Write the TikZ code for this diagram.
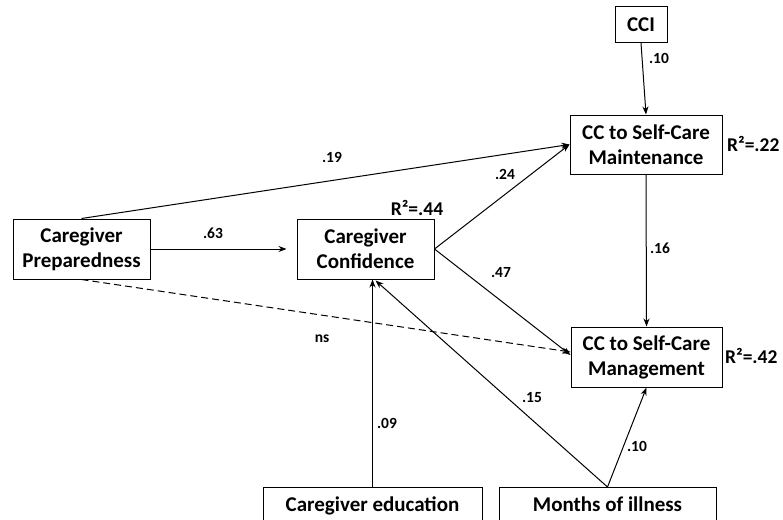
\documentclass[tikz,border=0pt]{standalone}
\usepackage{fontspec}
\setmainfont{Carlito}
\usetikzlibrary{arrows.meta,calc}
\begin{document}
\begin{tikzpicture}[x=1pt,y=-1pt,
  box/.style={draw,line width=1pt,fill=white,font=\fontsize{21}{25}\selectfont\bfseries,align=center,inner sep=0pt},
  lbl/.style={font=\fontsize{15.5}{17}\selectfont\bfseries,inner sep=0pt},
  rsq/.style={font=\fontsize{19.5}{22}\selectfont\bfseries,inner sep=0pt},
  conn/.style={line width=1pt,-{Stealth[length=8pt,width=6pt]}}]
\useasboundingbox (0,0) rectangle (783,519);
\clip (0,0) rectangle (783,519);
\node[box,minimum width=52pt,minimum height=36pt] (cci) at (641,24.5) {CCI};
\node[box,minimum width=152pt,minimum height=59pt] (maint) at (646,144.5) {CC to Self-Care\\Maintenance};
\node[box,minimum width=151pt,minimum height=60pt] (mgmt) at (646.5,357) {CC to Self-Care\\Management};
\node[box,minimum width=137pt,minimum height=60pt] (prep) at (81.5,249) {Caregiver\\Preparedness};
\node[box,minimum width=137pt,minimum height=60pt] (conf) at (365.5,249) {Caregiver\\Confidence};
\node[box,minimum width=219pt,minimum height=60pt,anchor=north] (edu) at (372.5,487) {};
\node[box,minimum width=217pt,minimum height=60pt,anchor=north] (months) at (607.5,487) {};
\node[font=\fontsize{21}{25}\selectfont\bfseries,anchor=base] (edut) at (372.5,511) {Caregiver education};
\node[font=\fontsize{21}{25}\selectfont\bfseries,anchor=base] (montht) at (607.5,511) {Months of illness};

\node[rsq,anchor=west] (r1) at (727,144) {R²=.22};
\node[rsq,anchor=west] (r2) at (725,356) {R²=.42};
\node[rsq] (r3) at (417,208) {R²=.44};

\draw[conn] (cci.south) -- (maint.north);
\draw[conn] (prep.north) -- (maint.west);
\draw[conn] (prep.east) -- ($(conf.west)+(-10,0)$);
\draw[conn] (conf.east) -- (maint.west);
\draw[conn] (conf.east) -- ($(mgmt.west)+(0,-2)$);
\draw[conn,dash pattern=on 7pt off 4pt] (prep.south) -- ($(mgmt.west)+(0,-5)$);
\draw[conn] (maint.south) -- (mgmt.north);
\draw[conn] (edu.north) -- (edu.north |- conf.south);
\draw[conn] (months.north) -- ($(edu.north |- conf.south)+(3,1)$);
\draw[conn] (months.north) -- (mgmt.south);

\node[lbl] at (659,58) {.10};
\node[lbl] at (332,157) {.19};
\node[lbl] at (213,233) {.63};
\node[lbl] at (505,174) {.24};
\node[lbl] at (501,273) {.47};
\node[lbl] at (322,339) {ns};
\node[lbl] at (660,248) {.16};
\node[lbl] at (387,423) {.09};
\node[lbl] at (532,398) {.15};
\node[lbl] at (637,446) {.10};
\end{tikzpicture}
\end{document}
